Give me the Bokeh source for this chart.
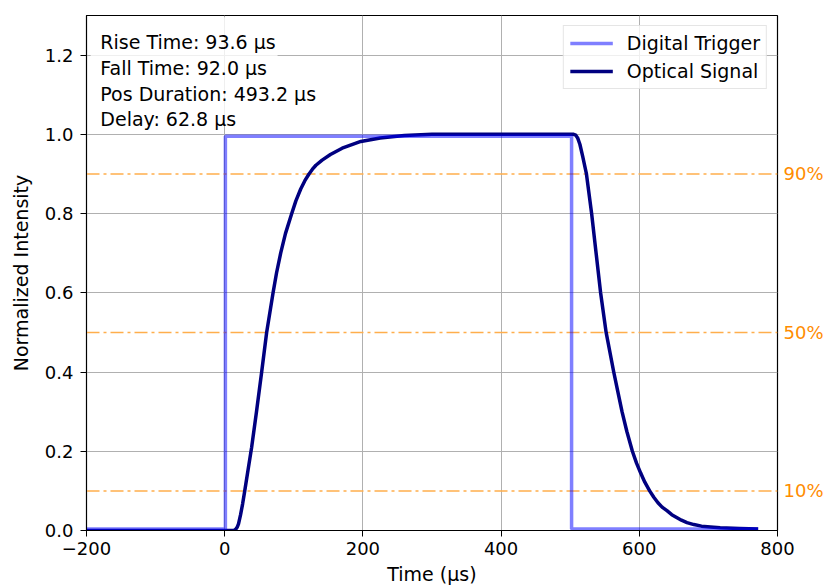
from bokeh.plotting import figure
from bokeh.models import (Range1d, LinearAxis, FixedTicker, Span, Label, BoxAnnotation,
                          Legend, LegendItem, ColumnDataSource)
from bokeh.embed import file_html
from bokeh.resources import INLINE

# ---------------- data ----------------
optical_time = [-200, 0, 10, 13.5, 16, 18, 20, 23, 26, 29, 34, 39, 46, 53.5, 60.7, 70, 75, 81,
                88, 97, 103, 110, 116, 122, 127, 132, 141, 153, 170, 197, 225, 260, 300,
                400, 505, 508, 511, 514, 518, 523.5, 531, 537.5, 544, 552,
                563, 569, 575, 582, 590, 596, 602, 608, 615, 621, 627, 633, 640, 647, 654, 661,
                669, 679, 690, 703, 717, 745, 772]
optical_signal = [0.0, 0.0, 0.0, 0.0, 0.003, 0.008, 0.017, 0.04, 0.068, 0.1, 0.155, 0.21, 0.3,
                  0.4, 0.5, 0.6, 0.65, 0.7, 0.75, 0.8, 0.832, 0.862, 0.883, 0.9, 0.912, 0.922,
                  0.935, 0.949, 0.965, 0.982, 0.991, 0.997, 1.0,
                  1.0, 1.0, 0.998, 0.99, 0.975, 0.945, 0.9, 0.8, 0.7, 0.6, 0.5, 0.4, 0.35,
                  0.3, 0.25, 0.2, 0.17, 0.145, 0.122, 0.1, 0.084, 0.07, 0.059, 0.05, 0.04,
                  0.033, 0.026, 0.02, 0.015, 0.011, 0.009, 0.007, 0.005, 0.004]

trigger_time = [-200, 1, 1, 502, 502, 772]
trigger_signal = [0.004, 0.004, 0.995, 0.995, 0.004, 0.004]

threshold_levels = [0.1, 0.5, 0.9]
threshold_labels = ["10%", "50%", "90%"]

x_ticks = [-200, 0, 200, 400, 600, 800]
x_tick_labels = ["\u2212200", "0", "200", "400", "600", "800"]
y_ticks = [0.0, 0.2, 0.4, 0.6, 0.8, 1.0, 1.2]
y_tick_labels = ["0.0", "0.2", "0.4", "0.6", "0.8", "1.0", "1.2"]

rise_time = 93.6
fall_time = 92.0
pos_duration = 493.2
delay = 62.8
stats_lines = [
    f"Rise Time: {rise_time:.1f} \u00b5s",
    f"Fall Time: {fall_time:.1f} \u00b5s",
    f"Pos Duration: {pos_duration:.1f} \u00b5s",
    f"Delay: {delay:.1f} \u00b5s",
]

FONT = "DejaVu Sans"

# ---------------- figure ----------------
p = figure(width=826, height=588, output_backend="svg", toolbar_location=None,
           x_range=Range1d(-200, 800), y_range=Range1d(0, 1.3),
           min_border_left=86, min_border_right=49, min_border_top=15, min_border_bottom=58,
           background_fill_color="white", border_fill_color="white")
p.outline_line_color = "black"
p.outline_line_width = 1.2
p.outline_line_alpha = 1.0

# axes
xa = p.xaxis[0]
xa.ticker = FixedTicker(ticks=x_ticks)
xa.major_label_overrides = {t: l for t, l in zip(x_ticks, x_tick_labels)}
xa.axis_label = "Time (\u00b5s)"
ya = p.yaxis[0]
ya.ticker = FixedTicker(ticks=y_ticks)
ya.major_label_overrides = {t: l for t, l in zip(y_ticks, y_tick_labels)}
ya.axis_label = "Normalized Intensity"
for ax in (xa, ya):
    ax.major_label_text_font = FONT
    ax.major_label_text_font_size = "18px"
    ax.major_label_text_color = "black"
    ax.axis_label_text_font = FONT
    ax.axis_label_text_font_size = "19px"
    ax.axis_label_text_font_style = "normal"
    ax.axis_label_text_color = "black"
    ax.major_tick_out = 6
    ax.major_tick_in = 0
    ax.major_tick_line_color = "black"
    ax.minor_tick_line_color = None
    ax.axis_line_color = "black"
xa.major_label_standoff = 5
xa.axis_label_standoff = 5
ya.major_label_standoff = 7
ya.axis_label_standoff = 10

ra = LinearAxis(ticker=FixedTicker(ticks=threshold_levels),
                major_label_overrides={t: l for t, l in zip(threshold_levels, threshold_labels)})
ra.major_label_text_font = FONT
ra.major_label_text_font_size = "18px"
ra.major_label_text_color = "#ff8c00"
ra.major_tick_line_color = None
ra.major_tick_out = 0
ra.major_tick_in = 0
ra.minor_tick_line_color = None
ra.minor_tick_out = 0
ra.minor_tick_in = 0
ra.axis_line_color = None
ra.major_label_standoff = 6
p.add_layout(ra, "right")

# grid
p.xgrid.ticker = FixedTicker(ticks=x_ticks)
p.ygrid.ticker = FixedTicker(ticks=y_ticks)
for g in (p.xgrid[0], p.ygrid[0]):
    g.grid_line_color = "#b0b0b0"
    g.grid_line_width = 1
    g.grid_line_alpha = 1.0

# threshold lines
for lvl in threshold_levels:
    p.add_layout(Span(location=lvl, dimension="width", line_color="#ffae4c",
                      line_width=1.5, line_dash="13 4 3 4", level="underlay"))

# data
osrc = ColumnDataSource(dict(x=optical_time, y=optical_signal))
tsrc = ColumnDataSource(dict(x=trigger_time, y=trigger_signal))
r_opt = p.line("x", "y", source=osrc, line_color="navy", line_width=3.5, line_join="round")
r_trg = p.line("x", "y", source=tsrc, line_color="blue", line_alpha=0.5, line_width=3.5)

# stats text box
p.add_layout(BoxAnnotation(left=-194, right=76.5, bottom=1.028, top=1.2955,
                           fill_color="white", fill_alpha=0.8, line_color=None))
ys = [1.2323, 1.1684, 1.1028, 1.0379]
for txt, yv in zip(stats_lines, ys):
    p.add_layout(Label(x=-180, y=yv, text=txt, text_font=FONT, text_font_size="19px",
                       text_color="black", text_baseline="alphabetic", text_align="left"))

# legend
legend = Legend(items=[LegendItem(label="Digital Trigger", renderers=[r_trg]),
                       LegendItem(label="Optical Signal", renderers=[r_opt])],
                location="top_right", margin=10, padding=6, spacing=6,
                label_text_font=FONT, label_text_font_size="19px", label_text_color="black",
                label_height=20, glyph_height=20, glyph_width=43, label_standoff=14,
                background_fill_color="white", background_fill_alpha=0.8,
                border_line_color="#cccccc", border_line_width=1)
p.add_layout(legend)

open("out.html", "w").write(file_html(p, INLINE))
